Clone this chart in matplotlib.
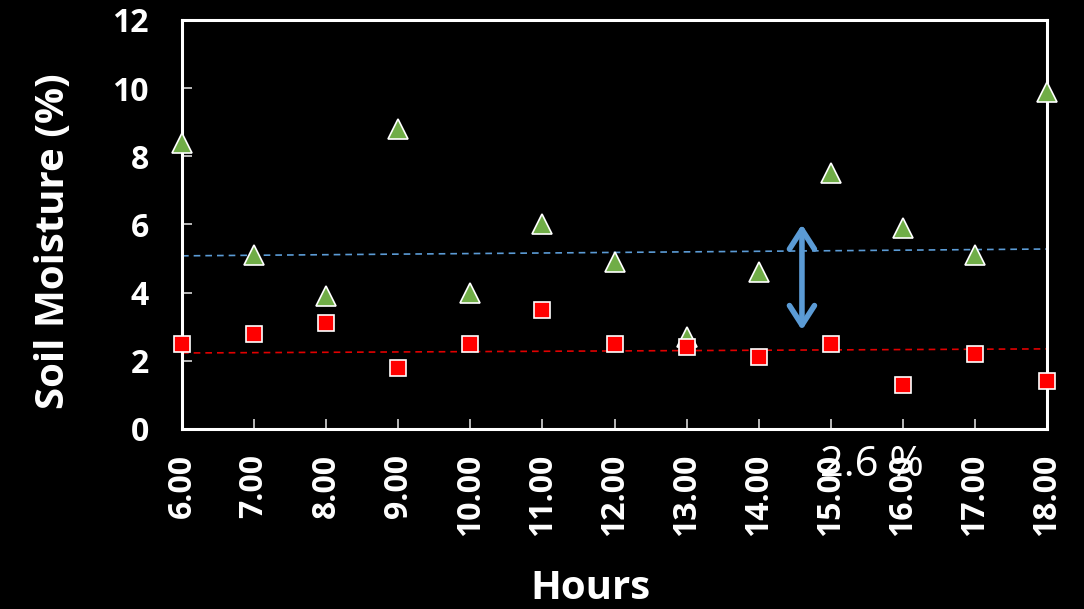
import matplotlib.pyplot as plt
import numpy as np

plt.rcParams["font.family"] = ["Open Sans", "DejaVu Sans"]

# data
hours = ["6.00", "7.00", "8.00", "9.00", "10.00", "11.00", "12.00",
         "13.00", "14.00", "15.00", "16.00", "17.00", "18.00"]
moisture_high = [8.4, 5.1, 3.9, 8.8, 4.0, 6.0, 4.9, 2.7, 4.6, 7.5, 5.9, 5.1, 9.9]
moisture_low = [2.5, 2.8, 3.1, 1.8, 2.5, 3.5, 2.5, 2.4, 2.1, 2.5, 1.3, 2.2, 1.4]
trend_high = [5.08, 5.28]
trend_low = [2.23, 2.35]
diff_label = "2.6 %"
arrow_x = 8.6
arrow_span = [6.0, 2.9]

fig = plt.figure(figsize=(10.84, 6.09), dpi=100, facecolor="black")
ax = fig.add_axes([0.1679, 0.2956, 0.798, 0.6716])
ax.set_facecolor("black")

x = np.arange(len(hours))

ax.plot([x[0], x[-1]], trend_high, linestyle=(0, (4, 3)), color="#5B9BD5", lw=1.2, zorder=2)
ax.plot([x[0], x[-1]], trend_low, linestyle=(0, (4, 3)), color="#E00000", lw=1.2, zorder=2)

ax.plot(x, moisture_high, linestyle="none", marker="^", markersize=14,
        markerfacecolor="#70AD47", markeredgecolor="white", markeredgewidth=1.2,
        clip_on=False, zorder=4)
ax.plot(x, moisture_low, linestyle="none", marker="s", markersize=11.5,
        markerfacecolor="#FF0000", markeredgecolor="white", markeredgewidth=1.2,
        clip_on=False, zorder=4)

ax.annotate("", xy=(arrow_x, arrow_span[0]), xytext=(arrow_x, arrow_span[1]),
            arrowprops=dict(arrowstyle="<->,head_length=0.7,head_width=0.45",
                            color="#5B9BD5", lw=4, mutation_scale=20,
                            shrinkA=0, shrinkB=0),
            zorder=5)

ax.set_xlim(0, len(hours) - 1)
ax.set_ylim(0, 12)
ax.set_xticks(x)
ax.set_xticklabels(hours, rotation=90)
ax.set_yticks(np.arange(0, 13, 2))

for side in ["left", "right", "top", "bottom"]:
    ax.spines[side].set_color("white")
    ax.spines[side].set_linewidth(2.2)

ax.tick_params(axis="both", direction="in", length=7, width=1.2, color="#d9d9d9",
               labelcolor="white", labelsize=23)
ax.tick_params(axis="y", pad=24)
ax.tick_params(axis="x", pad=18)
for lbl in ax.get_xticklabels() + ax.get_yticklabels():
    lbl.set_fontweight("bold")

ax.set_ylabel("Soil Moisture (%)", color="white", fontsize=29, fontweight="bold", va="center")
ax.yaxis.set_label_coords(-0.148, 0.46)
ax.set_xlabel("Hours", color="white", fontsize=29, fontweight="bold", va="center")
ax.xaxis.set_label_coords(0.472, -0.39)

fig.text(0.804, 0.236, diff_label, color="white", fontsize=30, ha="center", va="center",
         family=["Open Sans", "DejaVu Sans"])

fig.savefig("out.png", dpi=100, facecolor="black")
